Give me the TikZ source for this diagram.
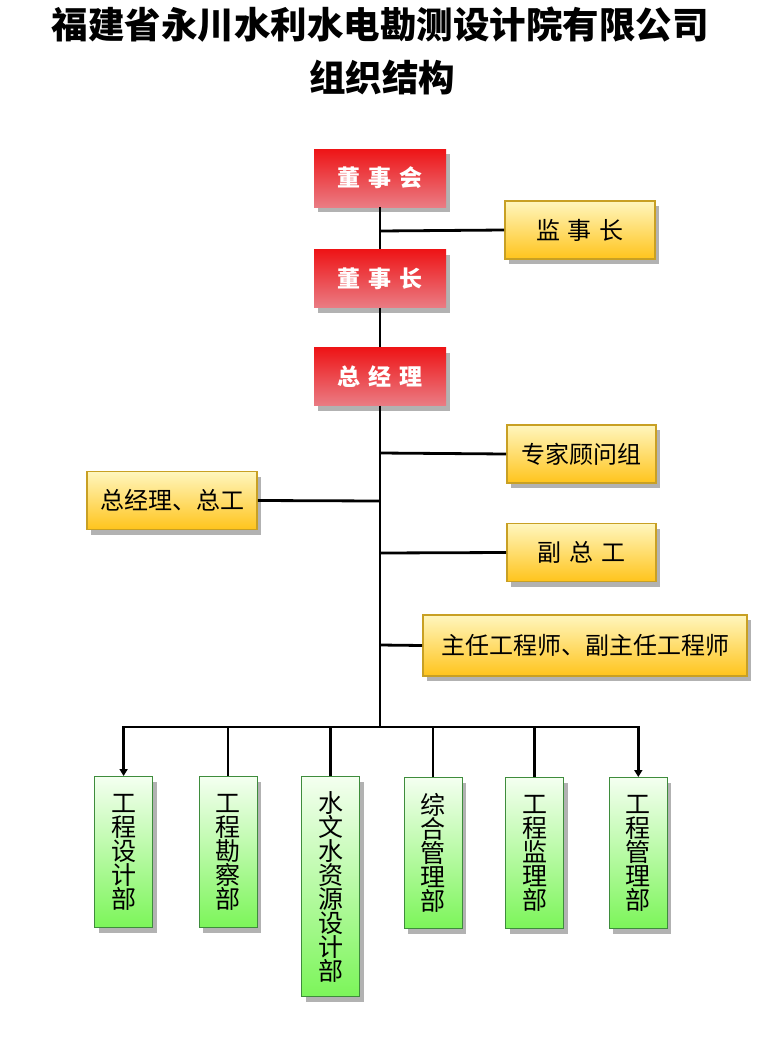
\documentclass[tikz,border=0pt]{standalone}
\usepackage{fontspec}
\setmainfont{Noto Sans CJK SC}
\usetikzlibrary{shadows,arrows.meta}
\definecolor{redtop}{RGB}{238,20,22}
\definecolor{redbot}{RGB}{234,124,132}
\definecolor{yeltop}{RGB}{255,246,190}
\definecolor{yelbot}{RGB}{255,196,28}
\definecolor{yelbord}{RGB}{200,160,36}
\definecolor{grntop}{RGB}{244,255,240}
\definecolor{grnbot}{RGB}{124,245,90}
\definecolor{grnbord}{RGB}{62,140,60}
\newcommand\kgap{\hspace{8pt}}
\begin{document}
\begin{tikzpicture}[x=1pt,y=-1pt,
  shadowed/.style={drop shadow={shadow xshift=4pt,shadow yshift=-5pt,fill=black,opacity=0.3}},
  redbox/.style={shadowed,minimum width=132pt,minimum height=58pt,inner sep=0pt,
    top color=redtop,bottom color=redbot,draw=none,text=white,
    font=\fontsize{23}{23}\selectfont\bfseries},
  yelbox/.style={shadowed,minimum height=58pt,inner sep=0pt,
    top color=yeltop,bottom color=yelbot,draw=yelbord,line width=1.8pt,
    font=\fontsize{24}{24}\selectfont},
  grnbox/.style={shadowed,anchor=north,minimum width=58pt,inner sep=0pt,
    top color=grntop,bottom color=grnbot,draw=grnbord,line width=1pt,
    align=center,font=\fontsize{25}{24}\selectfont},
  conn/.style={line width=2.8pt,black},
  arr/.style={conn,-{Triangle[length=7pt,width=8pt]}},
  titlefont/.style={font=\fontsize{36.5}{40}\selectfont\bfseries}]
\useasboundingbox (0,0) rectangle (761,1049);
\fill[white] (0,0) rectangle (761,1049);

% title
\node[titlefont] (t1) at (380,25) {福建省永川水利水电勘测设计院有限公司};
\node[titlefont] (t2) at (382,78) {组织结构};

% red boxes
\node[redbox] (dsh) at (380,178) {董\kgap 事\kgap 会};
\node[redbox] (dsz) at (380,278.5) {董\kgap 事\kgap 长};
\node[redbox] (zjl) at (380,376.5) {总\kgap 经\kgap 理};

% yellow boxes
\node[yelbox,minimum width=150pt] (jsz) at (580,230) {监\kgap 事\kgap 长};
\node[yelbox,minimum width=149pt] (zjgw) at (581.5,454) {专家顾问组};
\node[yelbox,minimum width=170pt] (zjzg) at (172,500.5) {总经理、总工};
\node[yelbox,minimum width=149pt] (fzg) at (581.5,552.5) {副\kgap 总\kgap 工};
\node[yelbox,minimum width=324pt,minimum height=61pt] (zrgc) at (585,645.5) {主任工程师、副主任工程师};

% green boxes
\node[grnbox,minimum height=151pt] (g1) at (123.6,776) {工\\程\\设\\计\\部};
\node[grnbox,minimum height=151pt] (g2) at (228,776) {工\\程\\勘\\察\\部};
\node[grnbox,minimum height=220pt] (g3) at (330.8,776) {水\\文\\水\\资\\源\\设\\计\\部};
\node[grnbox,minimum height=151pt] (g4) at (433,777) {综\\合\\管\\理\\部};
\node[grnbox,minimum height=151pt] (g5) at (534.6,777) {工\\程\\监\\理\\部};
\node[grnbox,minimum height=151pt] (g6) at (638.3,777) {工\\程\\管\\理\\部};

% junctions
\coordinate (j1) at (380,231);
\coordinate (j2) at (380,453);
\coordinate (j3) at (380,501);
\coordinate (j4) at (380,553);
\coordinate (j5) at (380,645);
\coordinate (hub) at (380,727);
\coordinate (b2) at (g2.north |- hub);
\coordinate (b3) at (g3.north |- hub);
\coordinate (b4) at (g4.north |- hub);
\coordinate (b5) at (g5.north |- hub);

% trunk
\draw[conn] (dsh.south) -- (dsz.north);
\draw[conn] (dsz.south) -- (zjl.north);
\draw[conn] (zjl.south) -- (hub);

% side branches
\draw[conn] (j1) -- (jsz.west);
\draw[conn] (j2) -- (zjgw.west);
\draw[conn] (j3) -- (zjzg.east);
\draw[conn] (j4) -- (fzg.west);
\draw[conn] (j5) -- (zrgc.west);

% bus and drops
\draw[arr] (hub) -| (g1.north);
\draw[arr] (hub) -| (g6.north);
\draw[conn] (b2) -- (g2.north);
\draw[conn] (b3) -- (g3.north);
\draw[conn] (b4) -- (g4.north);
\draw[conn] (b5) -- (g5.north);
\end{tikzpicture}
\end{document}
